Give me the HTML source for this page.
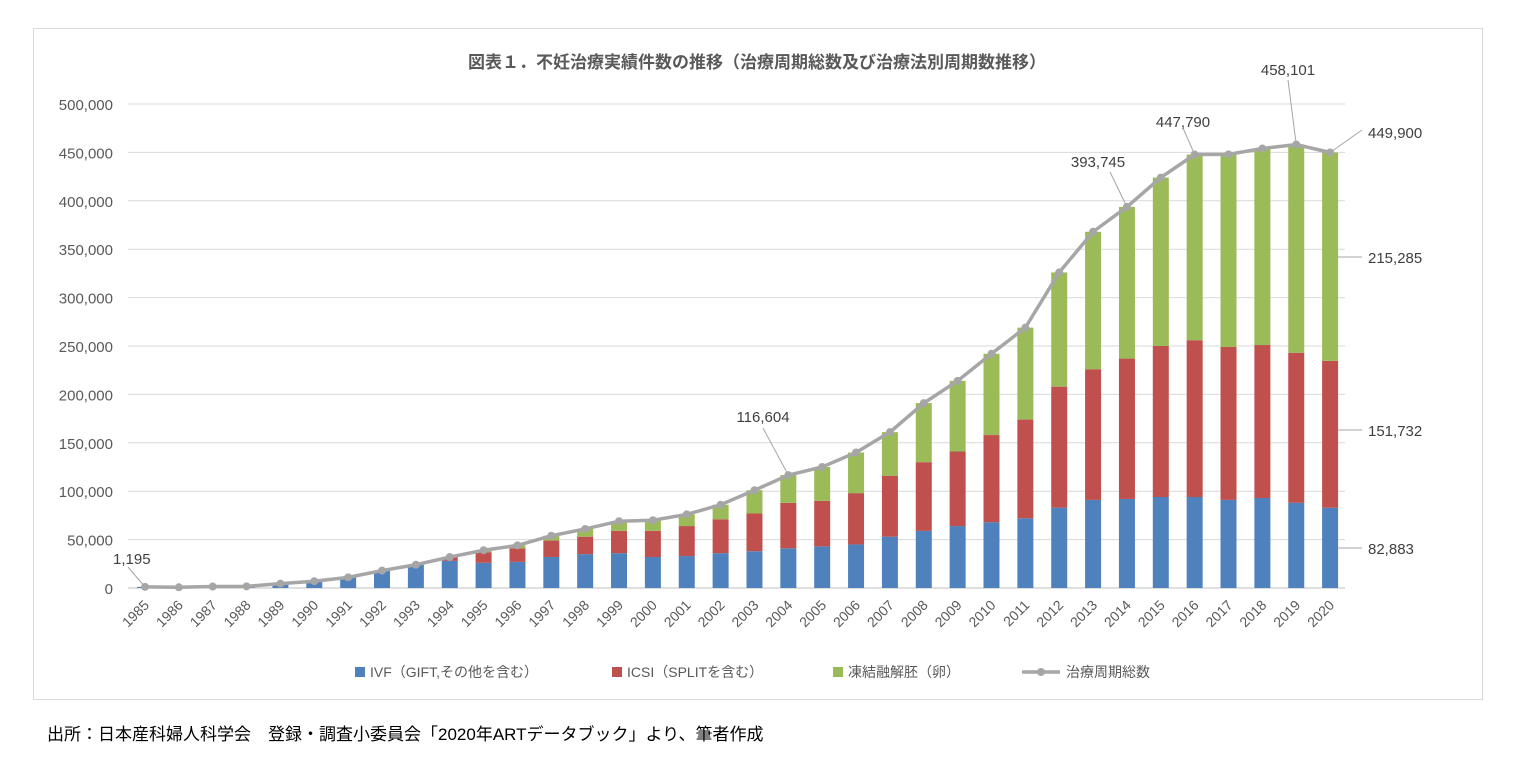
<!DOCTYPE html>
<html><head><meta charset="utf-8"><style>
body{margin:0;background:#fff;width:1515px;height:770px;overflow:hidden;font-family:"Liberation Sans","Noto Sans CJK JP",sans-serif}
</style></head><body>
<svg width="1515" height="770" xmlns="http://www.w3.org/2000/svg" font-family="Liberation Sans, Noto Sans CJK JP, sans-serif">
<rect x="33.5" y="28.5" width="1449" height="671" fill="#fff" stroke="#d9d9d9"/>
<text x="757" y="68" text-anchor="middle" font-size="17" font-weight="bold" fill="#595959">図表１．不妊治療実績件数の推移（治療周期総数及び治療法別周期数推移）</text>
<g id="g"></g>
<text x="47" y="740" font-size="17" fill="#000">出所：日本産科婦人科学会　登録・調査小委員会「2020年ARTデータブック」より、筆者作成</text>
</svg>
<script>
const d=[[1.195,0,0],[0.75,0,0],[1.5,0,0],[1.7,0,0],[4.5,0,0],[7,0,0],[11,0,0],[18,0,0],[24,0,0],[28,4,0],[26,11,2],[27,14,3],[32,17,5],[35,18,8],[36,23,10],[32,27,11],[33,31,12],[36,35,15],[38,39,24],[41,47,28.6],[43,47,35],[45,53,42],[53,63,45],[59,71,61],[64,77,73],[68,90,84],[72,102,95],[83,125,118],[91,135,142],[92,145,156.7],[94,156,174],[94,162,191.8],[91,158,199],[93,158,203],[88,155,215.1],[82.883,151.732,215.285]];
const Y=v=>588-v*0.968, X=i=>145+i*33.86;
let s='';
for(let k=0;k<=10;k++){let y=Y(k*50);s+=`<line x1="128" x2="1345" y1="${y}" y2="${y}" stroke="${k?'#d9d9d9':'#bfbfbf'}"/><text x="113" y="${y+6}" text-anchor="end" font-size="15" fill="#595959">${k?(k*50)+',000':'0'}</text>`;}
const c=['#4f81bd','#c0504d','#9bbb59'];let pts=[];
d.forEach((r,i)=>{let x=X(i),b=0;r.forEach((v,j)=>{if(v>0)s+=`<rect x="${x-8}" y="${Y(b+v)}" width="16" height="${v*0.968}" fill="${c[j]}"/>`;b+=v;});pts.push([x,Y(b)]);
s+=`<text transform="translate(${x+5},${606}) rotate(-45)" text-anchor="end" font-size="14" fill="#595959">${1985+i}</text>`;});
s+=`<polyline points="${pts.map(p=>p.join(',')).join(' ')}" fill="none" stroke="#a6a6a6" stroke-width="3.5"/>`;
pts.forEach(p=>s+=`<circle cx="${p[0]}" cy="${p[1]}" r="4" fill="#a6a6a6"/>`);
const L=(x1,y1,x2,y2)=>`<line x1="${x1}" y1="${y1}" x2="${x2}" y2="${y2}" stroke="#a6a6a6"/>`;
const T=(x,y,t,a)=>`<text x="${x}" y="${y}" text-anchor="${a||'middle'}" font-size="15" fill="#404040">${t}</text>`;
s+=L(145,587,128,567)+T(113,564,'1,195','start');
s+=L(pts[19][0],pts[19][1],763,428)+T(763,422,'116,604');
s+=L(pts[29][0],pts[29][1],1110,172)+T(1098,167,'393,745');
s+=L(pts[31][0],pts[31][1],1183,128)+T(1183,127,'447,790');
s+=L(pts[34][0],pts[34][1],1288,80)+T(1288,75,'458,101');
s+=L(pts[35][0],pts[35][1],1362,130)+T(1368,138,'449,900','start');
s+=L(1338,257,1362,257)+T(1368,263,'215,285','start');
s+=L(1338,430,1362,430)+T(1368,436,'151,732','start');
s+=L(1338,548,1362,548)+T(1368,554,'82,883','start');
s+=`<rect x="355" y="667" width="10" height="10" fill="${c[0]}"/><text x="370" y="677" font-size="14" fill="#595959">IVF（GIFT,その他を含む）</text>`;
s+=`<rect x="612" y="667" width="10" height="10" fill="${c[1]}"/><text x="627" y="677" font-size="14" fill="#595959">ICSI（SPLITを含む）</text>`;
s+=`<rect x="833" y="667" width="10" height="10" fill="${c[2]}"/><text x="848" y="677" font-size="14" fill="#595959">凍結融解胚（卵）</text>`;
s+=`<line x1="1022" x2="1060" y1="672" y2="672" stroke="#a6a6a6" stroke-width="3.5"/><circle cx="1041" cy="672" r="4" fill="#a6a6a6"/><text x="1066" y="677" font-size="14" fill="#595959">治療周期総数</text>`;
document.getElementById('g').innerHTML=s;
</script>
</body></html>
